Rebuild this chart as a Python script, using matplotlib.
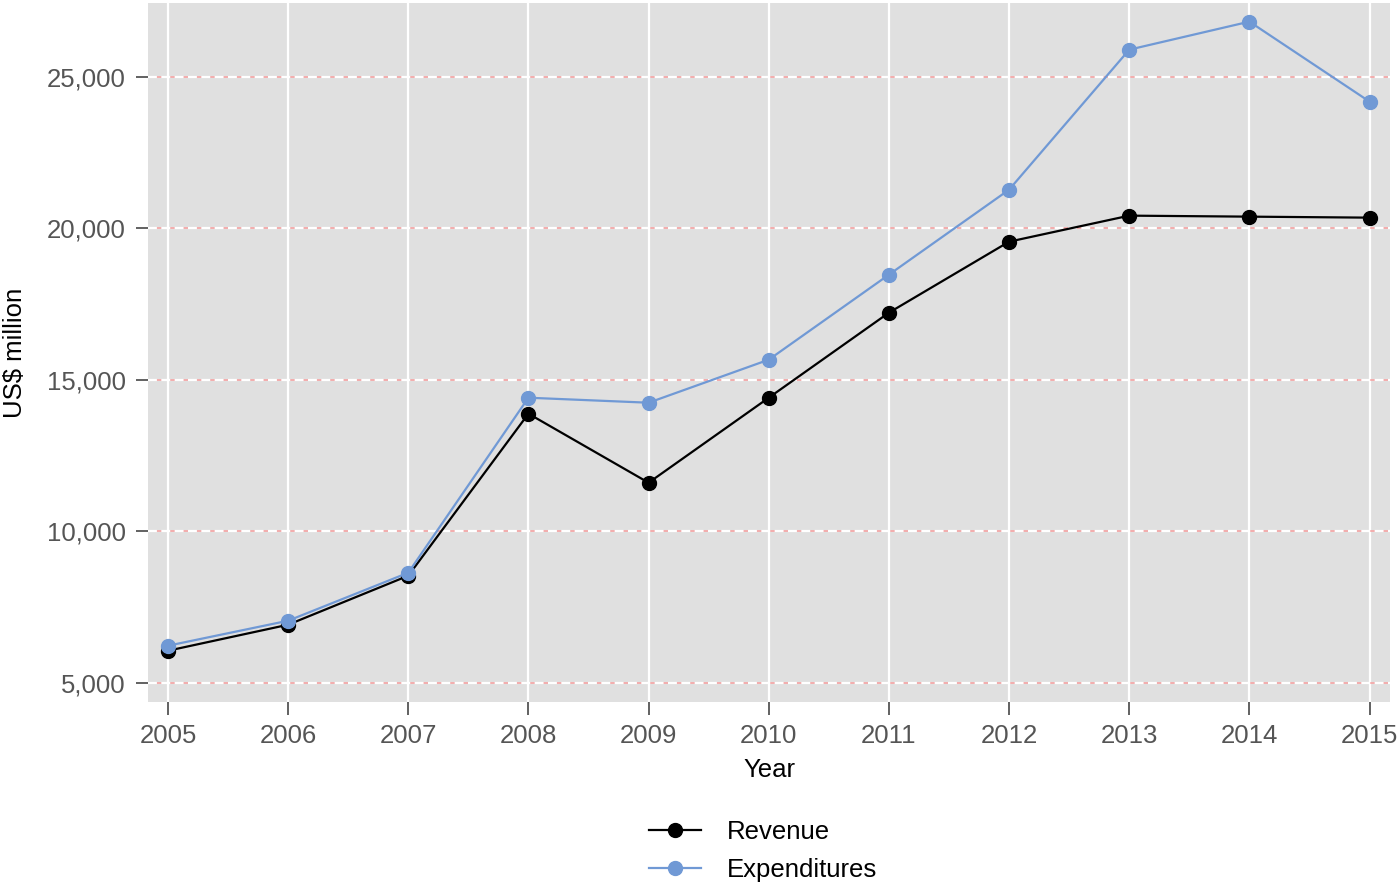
import numpy as np
import matplotlib.pyplot as plt
from matplotlib.ticker import FuncFormatter

plt.rcParams['font.family'] = ['Liberation Sans', 'DejaVu Sans']

years = [2005, 2006, 2007, 2008, 2009, 2010, 2011, 2012, 2013, 2014, 2015]
revenue = [6056, 6914, 8531, 13878, 11600, 14405, 17211, 19554, 20413, 20380, 20347]
expenditures = [6221, 7046, 8630, 14405, 14240, 15660, 18465, 21270, 25890, 26815, 24175]
yticks = [5000, 10000, 15000, 20000, 25000]

fig = plt.figure(figsize=(14, 8.9), dpi=100)
ax = fig.add_axes([148/1400, 1 - 702/890, (1390 - 148)/1400, (702 - 3)/890])
ax.set_facecolor('#e0e0e0')
for s in ax.spines.values():
    s.set_visible(False)

# grid: white verticals, white/pink dashed horizontals
for y in years:
    ax.axvline(y, color='white', lw=1.6, zorder=1)
for t in yticks:
    ax.axhline(t, color='#f4a9a9', lw=1.3, zorder=1)
    ax.axhline(t, color='white', lw=1.6, ls=(0, (4, 2)), zorder=1)

ax.plot(years, revenue, color='black', lw=1.6, marker='o', ms=10, label='Revenue', zorder=3)
ax.plot(years, expenditures, color='#7099d5', lw=1.6, marker='o', ms=10, label='Expenditures', zorder=3)

ax.set_xlim(2004.834, 2015.17)
ax.set_ylim(4364, 27430)
ax.set_xticks(years)
ax.set_yticks(yticks)
ax.yaxis.set_major_formatter(FuncFormatter(lambda v, p: f'{int(v):,}'))
ax.tick_params(axis='both', direction='out', length=9, width=1.3, color='#555555',
               labelcolor='#555555', labelsize=18.5, pad=7)

ax.set_xlabel('Year', fontsize=18.5, labelpad=7)
ax.set_ylabel('US$ million', fontsize=18.5, labelpad=14)

leg = fig.legend(loc='center', bbox_to_anchor=(0.545, 1 - 851/890), ncol=1, frameon=False,
                 fontsize=18.5, handlelength=2.0, handletextpad=1.0, labelspacing=0.55)

fig.savefig('out.png', dpi=100)
